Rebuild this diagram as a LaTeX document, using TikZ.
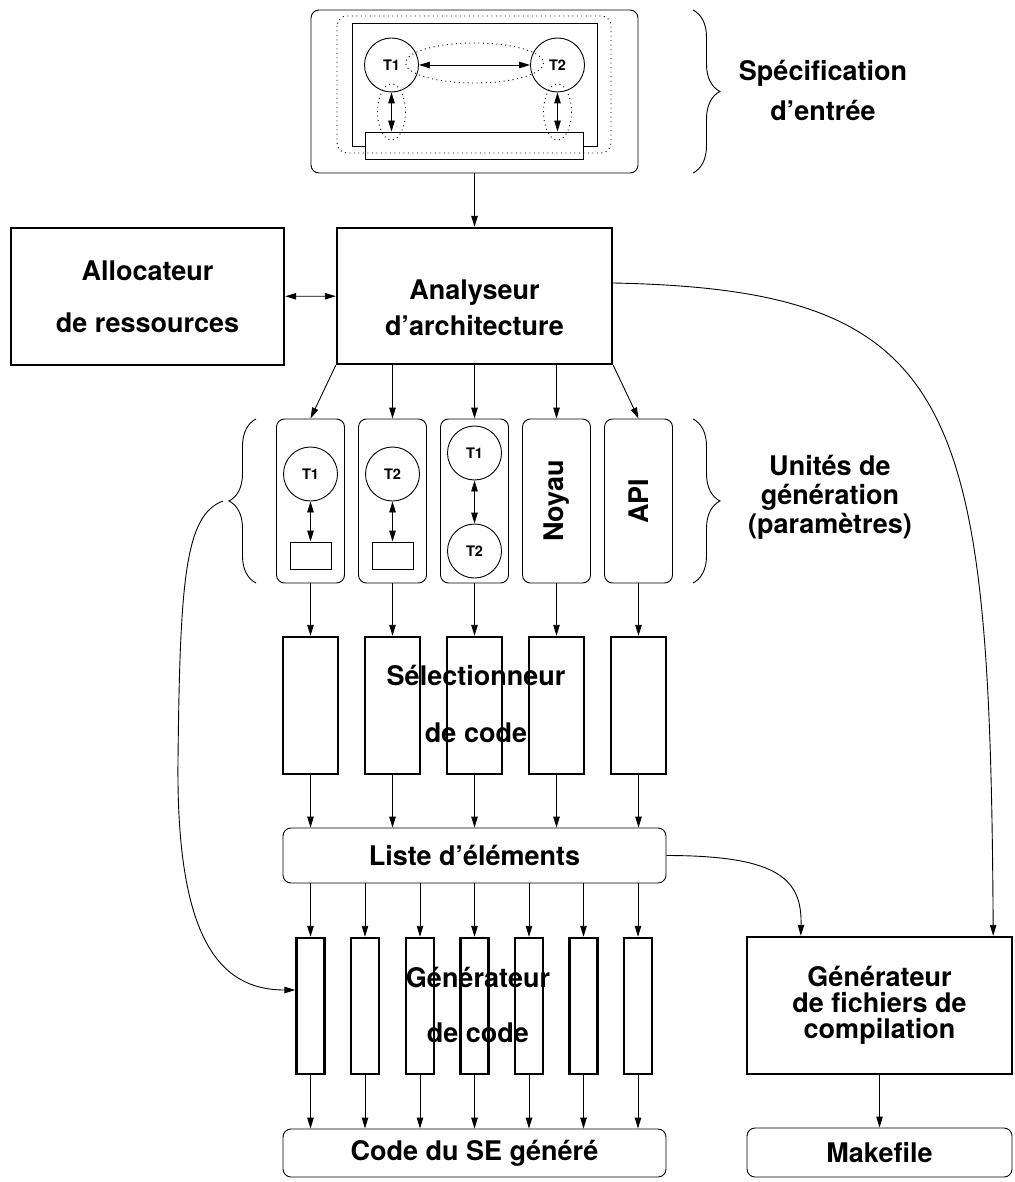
\documentclass[tikz,border=0pt]{standalone}
\usepackage{fontspec}
\setmainfont{TeX Gyre Heros}
\usepackage{tikz}
\usetikzlibrary{arrows.meta}
\usetikzlibrary{decorations.pathreplacing}

\tikzset{
    fil/.style={line width=0.9pt},
    fleche/.style={fil,-{Triangle[length=11pt,width=6.5pt]}},
    dfleche/.style={fil,{Triangle[length=11pt,width=6.5pt]}-{Triangle[length=11pt,width=6.5pt]}},
    pointille/.style={fil,dash pattern=on 1pt off 3.5pt},
    gras/.style={draw,line width=2.4pt,inner sep=0pt},
    arrondi/.style={draw,fil,rounded corners=8pt,inner sep=0pt},
    cadre/.style={draw,fil,inner sep=0pt},
    tache/.style={draw,fil,circle,minimum size=54pt,inner sep=0pt,font=\fontsize{14.5}{16}\selectfont\bfseries},
    texte/.style={align=center,inner sep=0pt,font=\fontsize{27}{#1}\selectfont\bfseries},
    texte/.default=30,
    accolade/.style={fil,decorate,decoration={brace,amplitude=27pt}}
}

\begin{document}
\begin{tikzpicture}[x=1pt,y=-1pt]
    \useasboundingbox (0,0) rectangle (1014,1182);

    \node[arrondi, minimum width=327pt, minimum height=163pt] (spec) at (474.5,91.5) {};
    \draw[fil] (352,146) rectangle (597,23);
    \node[cadre, fill=white, minimum width=218pt, minimum height=27pt] (bus) at (474,145.5) {};
    \node[tache] (t1) at (391.5,65) {T1};
    \node[tache] (t2) at (557.5,65) {T2};
    \draw[dfleche] (t1) -- (t2);
    \draw[dfleche] (t1) -- (t1 |- bus.north);
    \draw[dfleche] (t2) -- (t2 |- bus.north);
    \draw[pointille, rounded corners=10pt] (337,16) rectangle (611,153);
    \draw[pointille] (474.5,63) ellipse (69 and 20);
    \draw[pointille] (391.5,112) ellipse (14 and 28);
    \draw[pointille] (557.5,112) ellipse (14 and 28);
    \draw[accolade] (693,10) -- (693,173);
    \node[texte=40] (lspec) at (823,90) {Spécification\\d’entrée};

    \node[gras, minimum width=275pt, minimum height=136pt] (ana) at (474.5,296) {};
    \node[texte=36] (lana) at (474.5,308) {Analyseur\\d’architecture};
    \node[gras, minimum width=273pt, minimum height=137pt, texte=52] (alloc) at (147.5,296.5) {Allocateur\\de ressources};

    \node[arrondi, minimum width=68pt, minimum height=164pt] (u1) at (310.5,501) {};
    \node[arrondi, minimum width=68pt, minimum height=164pt] (u2) at (392.5,501) {};
    \node[arrondi, minimum width=68pt, minimum height=164pt] (u3) at (474.5,501) {};
    \node[arrondi, minimum width=68pt, minimum height=164pt] (u4) at (556.5,501) {};
    \node[arrondi, minimum width=68pt, minimum height=164pt] (u5) at (638.5,501) {};
    \node[tache] (u1t) at (310.5,474) {T1};
    \node[cadre, minimum width=41pt, minimum height=27pt] (u1r) at (310.5,555.5) {};
    \node[tache] (u2t) at (392.5,474) {T2};
    \node[cadre, minimum width=41pt, minimum height=27pt] (u2r) at (392.5,555.5) {};
    \node[tache] (u3a) at (474.5,453) {T1};
    \node[tache] (u3b) at (474.5,551) {T2};
    \node[texte, rotate=90] (noyau) at (u4) {Noyau};
    \node[texte, rotate=90] (api) at (u5) {API};
    \draw[dfleche] (u1t) -- (u1r);
    \draw[dfleche] (u2t) -- (u2r);
    \draw[dfleche] (u3a) -- (u3b);
    \draw[accolade] (256,583) -- (256,419);
    \draw[accolade] (693,419) -- (693,583);
    \coordinate (pointe) at (223,501);
    \node[texte=29] (lunit) at (830,497) {Unités de\\génération\\(paramètres)};

    \node[gras, minimum width=55pt, minimum height=137pt] (s1) at (310.5,705.5) {};
    \node[gras, minimum width=55pt, minimum height=137pt] (s2) at (392.5,705.5) {};
    \node[gras, minimum width=55pt, minimum height=137pt] (s3) at (474.5,705.5) {};
    \node[gras, minimum width=55pt, minimum height=137pt] (s4) at (556.5,705.5) {};
    \node[gras, minimum width=55pt, minimum height=137pt] (s5) at (638.5,705.5) {};
    \node[texte=57] (lsel) at (476,703.5) {Sélectionneur\\de code};

    \node[arrondi, minimum width=383pt, minimum height=55pt, texte] (liste) at (474.5,855.5) {Liste d’éléments};

    \node[gras, minimum width=28pt, minimum height=136pt] (g1) at (310.5,1006) {};
    \node[gras, minimum width=28pt, minimum height=136pt] (g2) at (365,1006) {};
    \node[gras, minimum width=28pt, minimum height=136pt] (g3) at (420,1006) {};
    \node[gras, minimum width=28pt, minimum height=136pt] (g4) at (474.5,1006) {};
    \node[gras, minimum width=28pt, minimum height=136pt] (g5) at (529,1006) {};
    \node[gras, minimum width=28pt, minimum height=136pt] (g6) at (583.5,1006) {};
    \node[gras, minimum width=28pt, minimum height=136pt] (g7) at (638,1006) {};
    \node[texte=55] (lgen) at (478,1004.5) {Générateur\\de code};

    \node[arrondi, minimum width=383pt, minimum height=48pt, texte] (code) at (474.5,1153) {Code du SE généré};
    \node[gras, minimum width=265pt, minimum height=137pt, texte=26] (cg) at (879.5,1005.5) {Générateur\\de fichiers de\\compilation};
    \node[arrondi, minimum width=265pt, minimum height=49pt, texte] (mk) at (879.5,1152.5) {Makefile};

    \draw[fleche] (spec) -- (ana);
    \draw[dfleche] (alloc) -- (ana);
    \draw[fleche] (ana.south west) -- (u1.north);
    \draw[fleche] (u2.north |- ana.south) -- (u2.north);
    \draw[fleche] (u3.north |- ana.south) -- (u3.north);
    \draw[fleche] (u4.north |- ana.south) -- (u4.north);
    \draw[fleche] (ana.south east) -- (u5.north);
    \draw[fleche] ([yshift=13pt]ana.east) .. controls (960,290) and (990,400) .. ([xshift=-20pt]cg.north east);

    \draw[fleche] (u1.south) -- (s1.north);
    \draw[fleche] (u2.south) -- (s2.north);
    \draw[fleche] (u3.south) -- (s3.north);
    \draw[fleche] (u4.south) -- (s4.north);
    \draw[fleche] (u5.south) -- (s5.north);

    \draw[fleche] (s1.south) -- (s1.south |- liste.north);
    \draw[fleche] (s2.south) -- (s2.south |- liste.north);
    \draw[fleche] (s3.south) -- (s3.south |- liste.north);
    \draw[fleche] (s4.south) -- (s4.south |- liste.north);
    \draw[fleche] (s5.south) -- (s5.south |- liste.north);

    \draw[fleche] (g1.north |- liste.south) -- (g1.north);
    \draw[fleche] (g2.north |- liste.south) -- (g2.north);
    \draw[fleche] (g3.north |- liste.south) -- (g3.north);
    \draw[fleche] (g4.north |- liste.south) -- (g4.north);
    \draw[fleche] (g5.north |- liste.south) -- (g5.north);
    \draw[fleche] (g6.north |- liste.south) -- (g6.north);
    \draw[fleche] (g7.north |- liste.south) -- (g7.north);

    \draw[fleche] (g1.south) -- (g1.south |- code.north);
    \draw[fleche] (g2.south) -- (g2.south |- code.north);
    \draw[fleche] (g3.south) -- (g3.south |- code.north);
    \draw[fleche] (g4.south) -- (g4.south |- code.north);
    \draw[fleche] (g5.south) -- (g5.south |- code.north);
    \draw[fleche] (g6.south) -- (g6.south |- code.north);
    \draw[fleche] (g7.south) -- (g7.south |- code.north);

    \draw[fleche] (liste.east) .. controls (780,855.5) and (802,880) .. ([xshift=55pt]cg.north west);
    \draw[fleche] (cg) -- (mk);
    \draw[fleche] (pointe) .. controls (185,515) and (180,580) .. (178,760) .. controls (176,940) and (220,990) .. ([yshift=16pt]g1.west);

\end{tikzpicture}
\end{document}
